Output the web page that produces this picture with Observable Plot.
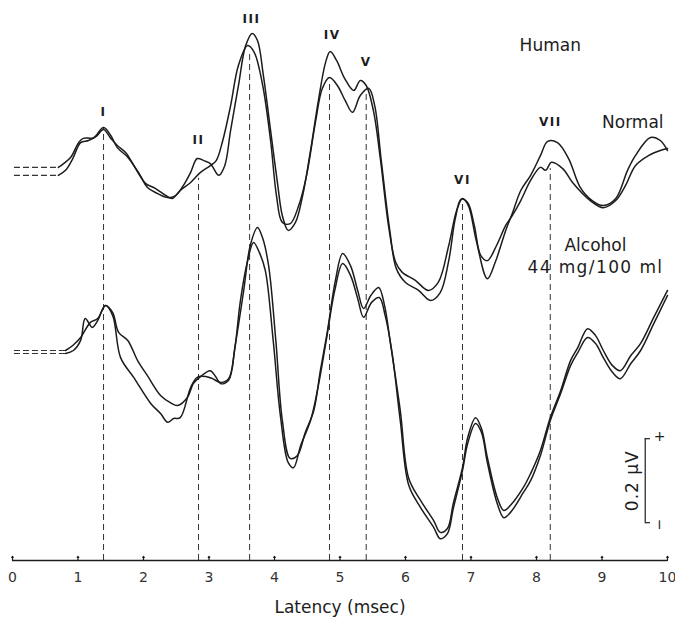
<!DOCTYPE html>
<html>
<head>
<meta charset="utf-8">
<script src="https://cdn.jsdelivr.net/npm/d3@7"></script>
<script src="https://cdn.jsdelivr.net/npm/@observablehq/plot@0.6"></script>
<style>
  html, body { margin: 0; padding: 0; background: #fff; }
  #chart svg { display: block; }
</style>
</head>
<body>
<div id="chart"></div>
<script>
// Latency (msec) and amplitude (µV, offset per trace pair)
const normalTraceA = [
  [0.70,0.936],[0.78,0.945],[0.89,0.960],[1.01,0.995],[1.08,1.005],[1.24,1.007],[1.39,1.031],
  [1.50,1.012],[1.60,0.983],[1.76,0.960],[1.95,0.917],[2.06,0.888],[2.21,0.874],[2.37,0.864],
  [2.49,0.869],[2.61,0.893],[2.72,0.924],[2.82,0.957],[2.92,0.952],[3.02,0.945],[3.15,0.917],
  [3.24,0.940],[3.33,1.024],[3.45,1.131],[3.56,1.226],[3.66,1.255],[3.74,1.238],[3.83,1.155],
  [3.94,1.024],[4.05,0.893],[4.12,0.821],[4.21,0.786],[4.32,0.805],[4.43,0.869],[4.55,0.976],
  [4.67,1.095],[4.78,1.186],[4.85,1.212],[4.95,1.190],[5.07,1.148],[5.21,1.119],[5.31,1.143],
  [5.40,1.131],[5.51,1.071],[5.62,0.952],[5.74,0.798],[5.85,0.710],[5.95,0.686],[6.15,0.667],
  [6.35,0.643],[6.50,0.662],[6.66,0.750],[6.78,0.833],[6.87,0.862],[6.96,0.845],[7.08,0.762],
  [7.25,0.671],[7.37,0.710],[7.53,0.786],[7.63,0.826],[7.76,0.881],[7.91,0.917],[8.06,0.964],
  [8.17,0.998],[8.32,0.995],[8.49,0.957],[8.67,0.888],[8.85,0.857],[9.02,0.845],[9.21,0.862],
  [9.39,0.929],[9.51,0.964],[9.74,1.007],[9.89,1.000],[10.0,0.976]
];
const normalTraceB = [
  [0.70,0.917],[0.81,0.929],[0.92,0.957],[1.04,0.995],[1.16,1.000],[1.28,1.010],[1.39,1.026],
  [1.50,1.005],[1.60,0.988],[1.73,0.971],[1.88,0.933],[2.03,0.898],[2.18,0.886],[2.34,0.869],
  [2.44,0.862],[2.56,0.881],[2.72,0.900],[2.87,0.924],[3.02,0.940],[3.11,0.952],[3.21,1.000],
  [3.33,1.083],[3.45,1.179],[3.59,1.226],[3.69,1.210],[3.82,1.131],[3.94,1.000],[4.03,0.869],
  [4.12,0.805],[4.24,0.802],[4.37,0.845],[4.49,0.917],[4.63,1.048],[4.73,1.124],[4.84,1.150],
  [4.96,1.131],[5.08,1.095],[5.19,1.067],[5.31,1.107],[5.44,1.124],[5.53,1.083],[5.63,0.952],
  [5.76,0.786],[5.86,0.695],[6.00,0.662],[6.20,0.643],[6.38,0.619],[6.53,0.638],[6.66,0.714],
  [6.76,0.814],[6.85,0.860],[6.95,0.852],[7.05,0.798],[7.15,0.726],[7.25,0.714],[7.39,0.750],
  [7.53,0.798],[7.63,0.821],[7.76,0.857],[7.91,0.905],[8.06,0.936],[8.14,0.929],[8.23,0.948],
  [8.40,0.933],[8.56,0.898],[8.82,0.857],[9.02,0.840],[9.21,0.857],[9.36,0.893],[9.51,0.940],
  [9.71,0.964],[9.89,0.976],[10.0,0.981]
];
const alcoholTraceC = [
  [0.81,0.500],[0.92,0.512],[1.04,0.531],[1.19,0.567],[1.30,0.576],[1.42,0.607],[1.53,0.590],
  [1.62,0.543],[1.76,0.524],[1.91,0.476],[2.06,0.440],[2.26,0.393],[2.41,0.376],[2.52,0.369],
  [2.67,0.388],[2.76,0.421],[2.87,0.438],[3.02,0.452],[3.10,0.438],[3.18,0.421],[3.30,0.429],
  [3.40,0.512],[3.53,0.643],[3.63,0.750],[3.74,0.793],[3.82,0.767],[3.91,0.702],[4.02,0.524],
  [4.12,0.333],[4.24,0.243],[4.35,0.250],[4.47,0.305],[4.60,0.357],[4.70,0.452],[4.81,0.548],
  [4.93,0.667],[5.04,0.731],[5.16,0.702],[5.27,0.643],[5.36,0.600],[5.47,0.631],[5.59,0.650],
  [5.68,0.607],[5.77,0.517],[5.92,0.357],[6.05,0.195],[6.23,0.143],[6.43,0.095],[6.53,0.067],
  [6.64,0.076],[6.73,0.136],[6.87,0.221],[6.95,0.293],[7.07,0.340],[7.16,0.314],[7.25,0.245],
  [7.40,0.150],[7.50,0.119],[7.60,0.131],[7.80,0.174],[7.91,0.207],[8.06,0.262],[8.21,0.340],
  [8.37,0.405],[8.52,0.476],[8.63,0.507],[8.78,0.552],[8.90,0.536],[9.02,0.500],[9.16,0.464],
  [9.28,0.452],[9.44,0.488],[9.59,0.517],[9.79,0.579],[10.0,0.643]
];
const alcoholTraceD = [
  [0.81,0.493],[0.93,0.500],[1.04,0.524],[1.11,0.576],[1.22,0.555],[1.30,0.571],[1.42,0.607],
  [1.53,0.583],[1.65,0.483],[1.85,0.436],[2.11,0.374],[2.26,0.350],[2.37,0.329],[2.46,0.338],
  [2.56,0.340],[2.72,0.412],[2.82,0.436],[2.95,0.438],[3.05,0.433],[3.18,0.424],[3.30,0.433],
  [3.39,0.500],[3.48,0.619],[3.59,0.714],[3.68,0.757],[3.77,0.733],[3.86,0.690],[3.98,0.524],
  [4.09,0.345],[4.21,0.233],[4.29,0.221],[4.40,0.274],[4.55,0.333],[4.67,0.417],[4.79,0.524],
  [4.92,0.643],[5.04,0.707],[5.16,0.679],[5.27,0.624],[5.36,0.579],[5.48,0.614],[5.60,0.626],
  [5.69,0.583],[5.79,0.500],[5.92,0.333],[6.05,0.179],[6.23,0.126],[6.43,0.079],[6.53,0.052],
  [6.64,0.064],[6.73,0.124],[6.87,0.214],[6.95,0.279],[7.07,0.326],[7.16,0.305],[7.25,0.233],
  [7.40,0.136],[7.50,0.102],[7.60,0.114],[7.80,0.162],[7.91,0.190],[8.06,0.250],[8.21,0.333],
  [8.37,0.398],[8.52,0.464],[8.63,0.495],[8.78,0.531],[8.90,0.517],[9.02,0.483],[9.16,0.448],
  [9.28,0.433],[9.44,0.469],[9.59,0.500],[9.79,0.564],[10.0,0.631]
];
// prestimulus baselines (dashed)
const baselineAmp = [0.936, 0.917, 0.500, 0.493];
const baselineEnd = [0.70, 0.70, 0.81, 0.81];

// wave peaks
const peakNames = ["I", "II", "III", "IV", "V", "VI", "VII"];
const peakLatency = [1.39, 2.84, 3.62, 4.84, 5.40, 6.87, 8.21];
const peakLineTop = [1.031, 0.910, 1.214, 1.136, 1.114, 0.857, 0.933];
const peakLabelLatency = [1.39, 2.84, 3.65, 4.88, 5.40, 6.87, 8.21];
const peakLabelAmp = [1.067, 1.000, 1.290, 1.250, 1.186, 0.905, 1.043];

const xTicks = [0, 1, 2, 3, 4, 5, 6, 7, 8, 9, 10];

const notes = [
  {text: "Human", t: 8.21, v: 1.226},
  {text: "Normal", t: 9.47, v: 1.043},
  {text: "Alcohol", t: 8.90, v: 0.750},
  {text: "44 mg/100 ml", t: 8.90, v: 0.698}
];
// scale bar: 0.2 µV
const scaleBarLatency = 9.66;
const scaleBarLow = 0.090;
const scaleBarHigh = 0.290;

const ink = "#1c1c1c";
const toRows = (arr, name) => arr.map(([t, v]) => ({t, v, trace: name}));

const peaks = peakNames.map((name, i) => ({
  name, t: peakLatency[i], top: peakLineTop[i], lt: peakLabelLatency[i], lv: peakLabelAmp[i]
}));
const baselines = baselineAmp.map((v, i) => ({v, end: baselineEnd[i]}));

const plot = Plot.plot({
  width: 675,
  height: 626,
  marginLeft: 12,
  marginRight: 8,
  marginTop: 0,
  marginBottom: 66,
  style: {fontFamily: "DejaVu Sans, sans-serif", background: "#fff", color: ink},
  x: {domain: [0, 10], axis: null},
  y: {domain: [0, 560 / 420], axis: null},
  marks: [
    Plot.ruleX(peaks, {x: "t", y1: 0, y2: "top", stroke: "#333", strokeWidth: 1, strokeDasharray: "6,4"}),
    Plot.ruleY(baselines, {y: "v", x1: 0.03, x2: "end", stroke: "#333", strokeWidth: 1.1, strokeDasharray: "6,3"}),
    Plot.line(toRows(normalTraceA, "A"), {x: "t", y: "v", stroke: ink, strokeWidth: 1.5, curve: "catmull-rom"}),
    Plot.line(toRows(normalTraceB, "B"), {x: "t", y: "v", stroke: ink, strokeWidth: 1.5, curve: "catmull-rom"}),
    Plot.line(toRows(alcoholTraceC, "C"), {x: "t", y: "v", stroke: ink, strokeWidth: 1.5, curve: "catmull-rom"}),
    Plot.line(toRows(alcoholTraceD, "D"), {x: "t", y: "v", stroke: ink, strokeWidth: 1.5, curve: "catmull-rom"}),
    // axis
    Plot.ruleY([0], {x1: 0, x2: 10, stroke: ink, strokeWidth: 1.3}),
    Plot.vector(xTicks, {x: d => d, y: 0, length: 4, anchor: "start", stroke: ink, strokeWidth: 1.2}),
    Plot.text(xTicks, {x: d => d, y: 0, dy: 17, text: d => String(d), fontSize: 14, fill: "#333"}),
    Plot.text(["Latency (msec)"], {frameAnchor: "bottom", dy: 52, fontSize: 17, fill: ink}),
    // peak labels
    Plot.text(peaks, {x: "lt", y: "lv", text: "name", fontSize: 12, fontWeight: "bold", fill: ink}),
    // annotations
    Plot.text(notes, {x: "t", y: "v", text: "text", fontSize: 17, fill: ink}),
    // scale bar
    Plot.ruleX([scaleBarLatency], {y1: scaleBarLow, y2: scaleBarHigh, stroke: ink, strokeWidth: 1.2}),
    Plot.ruleY([scaleBarLow, scaleBarHigh], {x1: scaleBarLatency, x2: scaleBarLatency + 0.08, stroke: ink, strokeWidth: 1.2}),
    Plot.text(["0.2 µV"], {x: scaleBarLatency - 0.19, y: (scaleBarLow + scaleBarHigh) / 2, rotate: -90, fontSize: 17, fill: ink}),
    Plot.text(["+"], {x: scaleBarLatency + 0.22, y: scaleBarHigh + 0.005, fontSize: 14, fill: ink}),
    Plot.text(["−"], {x: scaleBarLatency + 0.22, y: scaleBarLow - 0.005, rotate: 90, fontSize: 14, fill: ink})
  ]
});

plot.querySelectorAll("text").forEach(el => {
  const s = el.textContent;
  if (/^[IV]+$/.test(s)) el.style.letterSpacing = "1.5px";
  if (s.includes("mg/100")) el.style.letterSpacing = "1.4px";
  if (s.includes("µV")) el.style.letterSpacing = "1px";
});
document.getElementById("chart").append(plot);
</script>
</body>
</html>
